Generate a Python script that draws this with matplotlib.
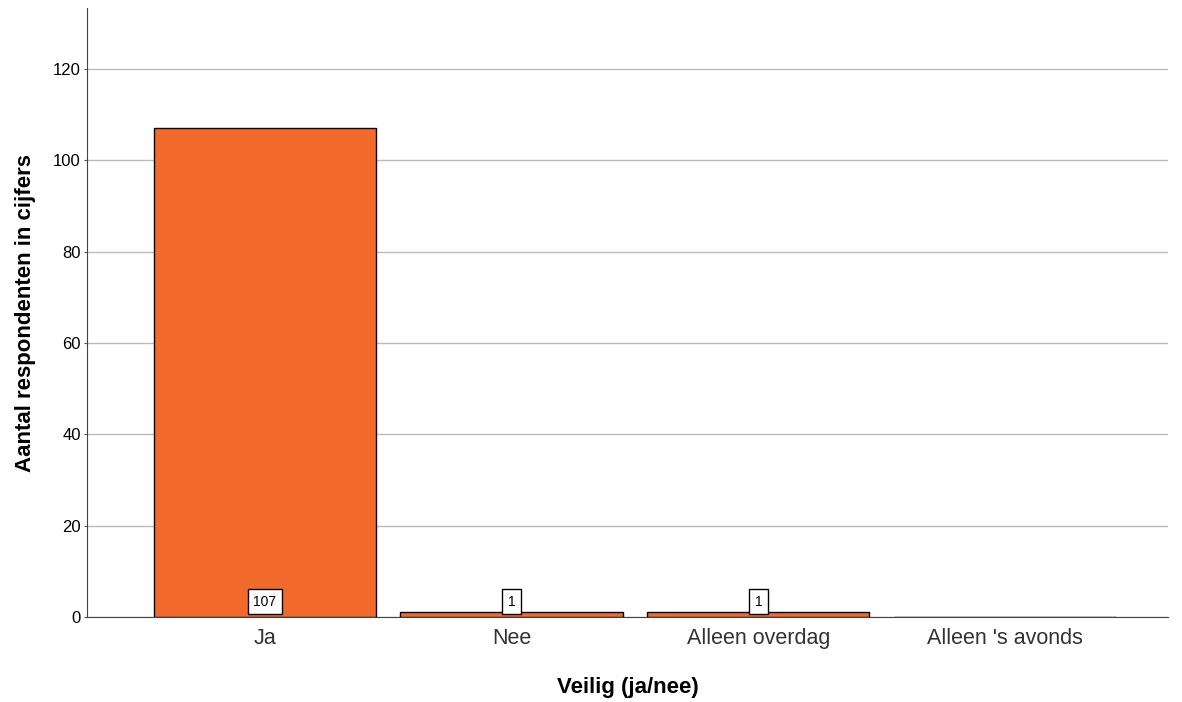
import matplotlib
matplotlib.use('Agg')
import matplotlib.pyplot as plt

plt.rcParams['font.family'] = ['Liberation Sans', 'DejaVu Sans']

# Data
categorieen = ['Ja', 'Nee', 'Alleen overdag', "Alleen 's avonds"]
aantallen = [107, 1, 1, 0]

fig = plt.figure(figsize=(11.82, 7.02), dpi=100)
ax = fig.add_axes([0.0736, 0.121, 0.9146, 0.8676])

x = list(range(len(categorieen)))
ax.bar(x, aantallen, width=0.9, color='#F26A2C', edgecolor='black', linewidth=1, zorder=3)

# Waardelabels onderaan de balken (niet voor lege categorie)
for xi, v in zip(x, aantallen):
    if v > 0:
        ax.annotate(str(v), (xi, 0), xytext=(0, 6), textcoords='offset points',
                    ha='center', va='bottom', fontsize=10, zorder=4,
                    bbox=dict(boxstyle='square,pad=0.4', facecolor='white', edgecolor='black', linewidth=1))

ax.set_xlim(-0.72, 3.66)
ax.set_ylim(0, 133.3)
ax.set_yticks(range(0, 121, 20))
ax.set_xticks(x)
ax.set_xticklabels(categorieen, fontsize=15.5, color='#333333')
ax.tick_params(axis='y', labelsize=12, length=2.5, color='#555555', pad=2)
ax.tick_params(axis='x', length=0, pad=8)

ax.grid(axis='y', color='#BBBBBB', linewidth=1, zorder=0)
ax.spines['top'].set_visible(False)
ax.spines['right'].set_visible(False)
ax.spines['left'].set_color('#444444')
ax.spines['bottom'].set_color('#444444')

ax.set_xlabel('Veilig (ja/nee)', fontsize=16, fontweight='bold', labelpad=20)
ax.set_ylabel('Aantal respondenten in cijfers', fontsize=16, fontweight='bold', labelpad=12)

fig.savefig('out.png', dpi=100)
